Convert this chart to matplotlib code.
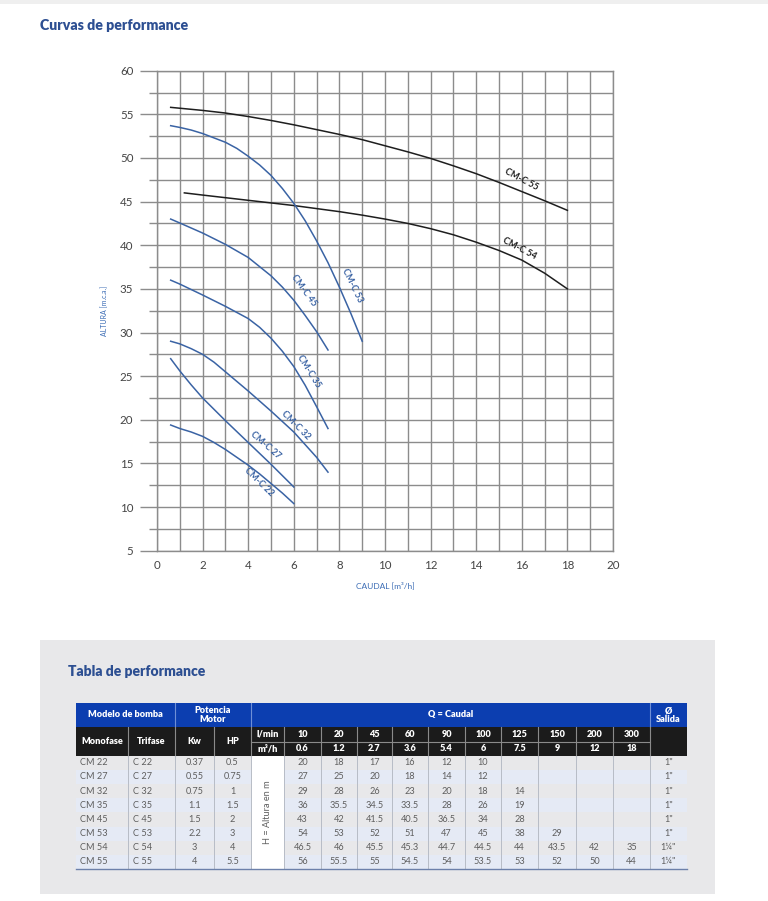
import matplotlib.pyplot as plt
from matplotlib.patches import Rectangle
from matplotlib.ticker import MultipleLocator

plt.rcParams['font.family'] = ['Lato', 'DejaVu Sans']

# curves (caudal m3/h, altura m)
cm55_x = [0.6, 2, 3, 4, 5, 6, 7, 8, 9, 10, 11, 12, 13, 14, 15, 16, 17, 18]
cm55_y = [55.8, 55.45, 55.15, 54.75, 54.3, 53.8, 53.25, 52.7, 52.1, 51.4,
          50.7, 49.95, 49.1, 48.2, 47.2, 46.15, 45.1, 44.0]
cm54_x = [1.2, 2, 3, 4, 5, 6, 7, 8, 9, 10, 11, 12, 13, 14, 15, 16, 17, 18]
cm54_y = [46.0, 45.75, 45.45, 45.15, 44.85, 44.55, 44.2, 43.85, 43.45, 43.0,
          42.5, 41.9, 41.2, 40.35, 39.4, 38.3, 36.8, 35.0]
cm53_x = [0.6, 1, 1.5, 2, 3, 3.5, 4, 4.5, 5, 5.5, 6, 6.5, 7, 7.5, 8, 8.5, 9]
cm53_y = [53.7, 53.5, 53.2, 52.8, 51.8, 51.1, 50.2, 49.2, 48.0, 46.5, 44.8,
          42.8, 40.5, 38.0, 35.2, 32.2, 29.0]
cm45_x = [0.6, 1, 2, 3, 4, 5, 5.5, 6, 6.5, 7, 7.5]
cm45_y = [43.0, 42.55, 41.4, 40.1, 38.6, 36.5, 35.2, 33.7, 31.95, 30.1, 28.0]
cm35_x = [0.6, 1, 2, 3, 4, 4.5, 5, 5.5, 6, 6.5, 7, 7.5]
cm35_y = [36.0, 35.55, 34.3, 33.0, 31.6, 30.6, 29.35, 27.85, 26.1, 23.95,
          21.5, 19.0]
cm32_x = [0.6, 1, 1.5, 2, 2.5, 3, 4, 5, 6, 7, 7.5]
cm32_y = [29.0, 28.7, 28.15, 27.5, 26.6, 25.5, 23.3, 21.0, 18.6, 15.7, 14.0]
cm27_x = [0.6, 1, 1.5, 2, 3, 4, 5, 6]
cm27_y = [27.0, 25.6, 24.0, 22.5, 19.9, 17.4, 14.9, 12.3]
cm22_x = [0.6, 1, 1.5, 2, 2.5, 3, 3.5, 4, 4.5, 5, 5.5, 6]
cm22_y = [19.4, 19.0, 18.6, 18.1, 17.4, 16.6, 15.7, 14.8, 13.8, 12.7, 11.6, 10.4]

# label: (text, x, y, rotation)
curve_labels = [
    ("CM-C 55", 16.0, 47.5, -28), ("CM-C 54", 15.9, 39.6, -28),
    ("CM-C 53", 8.58, 35.4, -64), ("CM-C 45", 6.45, 34.8, -54),
    ("CM-C 35", 6.65, 25.6, -58), ("CM-C 32", 6.1, 19.35, -45),
    ("CM-C 27", 4.75, 17.05, -41), ("CM-C 22", 4.45, 12.85, -44),
]

# table
monofase = ["CM 22", "CM 27", "CM 32", "CM 35", "CM 45", "CM 53", "CM 54", "CM 55"]
trifase = ["C 22", "C 27", "C 32", "C 35", "C 45", "C 53", "C 54", "C 55"]
kw = ["0.37", "0.55", "0.75", "1.1", "1.5", "2.2", "3", "4"]
hp = ["0.5", "0.75", "1", "1.5", "2", "3", "4", "5.5"]
q_lmin = ["10", "20", "45", "60", "90", "100", "125", "150", "200", "300"]
q_m3h = ["0.6", "1.2", "2.7", "3.6", "5.4", "6", "7.5", "9", "12", "18"]
heights = [
    ["20", "18", "17", "16", "12", "10", "", "", "", ""],
    ["27", "25", "20", "18", "14", "12", "", "", "", ""],
    ["29", "28", "26", "23", "20", "18", "14", "", "", ""],
    ["36", "35.5", "34.5", "33.5", "28", "26", "19", "", "", ""],
    ["43", "42", "41.5", "40.5", "36.5", "34", "28", "", "", ""],
    ["54", "53", "52", "51", "47", "45", "38", "29", "", ""],
    ["46.5", "46", "45.5", "45.3", "44.7", "44.5", "44", "43.5", "42", "35"],
    ["56", "55.5", "55", "54.5", "54", "53.5", "53", "52", "50", "44"],
]
salida = ['1"', '1"', '1"', '1"', '1"', '1"', '1¼"', '1¼"']

W, H = 768, 901
fig = plt.figure(figsize=(W / 100, H / 100), dpi=100)

bg = fig.add_axes([0, 0, 1, 1])
bg.set_xlim(0, W)
bg.set_ylim(H, 0)
bg.axis("off")

title_col = "#2d4f92"
blue_hdr = "#0c3eb0"
black_hdr = "#1b1b1b"
stripe = "#e5eaf5"
txt = "#5e5e5e"

bg.add_patch(Rectangle((0, 0), W, 4, color="#efefef", lw=0))
bg.text(40, 25, "Curvas de performance", color=title_col, fontsize=10.2,
        fontweight="heavy", va="center")

# gray panel
bg.add_patch(Rectangle((40, 640), 675, 254, color="#e8e8ea", lw=0))
bg.text(68, 672, "Tabla de performance", color=title_col, fontsize=10,
        fontweight="heavy", va="center")

edges = [76, 128, 175, 214, 251, 284, 321, 357, 392, 428, 465, 501, 538,
         576, 613, 650, 687]
y_blue, y_b1, y_b2, y_data = 702.5, 727.3, 741.5, 755.5
row_h = 14.2
n_rows = len(monofase)
y_end = y_data + n_rows * row_h

# header backgrounds
bg.add_patch(Rectangle((edges[0], y_blue), edges[-1] - edges[0], y_b1 - y_blue,
                       color=blue_hdr, lw=0))
bg.add_patch(Rectangle((edges[0], y_b1), edges[-1] - edges[0], y_data - y_b1,
                       color=black_hdr, lw=0))
for e in [175, 251, 650]:
    bg.plot([e, e], [y_blue, y_b1], color="#6f8fd6", lw=0.8)
for e in edges[1:-1]:
    bg.plot([e, e], [y_b1, y_data], color="#8a8a8a", lw=0.8)
bg.plot([251, 650], [y_b2, y_b2], color="#8a8a8a", lw=0.8)

hkw = dict(color="white", fontsize=6.6, fontweight="heavy", ha="center",
           va="center")
bg.text((edges[0] + edges[2]) / 2, (y_blue + y_b1) / 2, "Modelo de bomba", **hkw)
bg.text((edges[2] + edges[4]) / 2, (y_blue + y_b1) / 2, "Potencia\nMotor",
        linespacing=0.9, **hkw)
bg.text((edges[4] + edges[15]) / 2, (y_blue + y_b1) / 2, "Q = Caudal", **hkw)
bg.text((edges[15] + edges[16]) / 2, (y_blue + y_b1) / 2, "Ø\nSalida",
        linespacing=0.9, **hkw)
for i, lab in enumerate(["Monofase", "Trifase", "Kw", "HP"]):
    bg.text((edges[i] + edges[i + 1]) / 2, (y_b1 + y_data) / 2, lab, **hkw)
bg.text((edges[4] + edges[5]) / 2, (y_b1 + y_b2) / 2, "l/min", **hkw)
bg.text((edges[4] + edges[5]) / 2, (y_b2 + y_data) / 2, "m³/h", **hkw)
for j in range(len(q_lmin)):
    cx = (edges[5 + j] + edges[6 + j]) / 2
    bg.text(cx, (y_b1 + y_b2) / 2, q_lmin[j], **hkw)
    bg.text(cx, (y_b2 + y_data) / 2, q_m3h[j], **hkw)

# data rows
dkw = dict(color=txt, fontsize=6.6, va="center")
for r in range(n_rows):
    y0 = y_data + r * row_h
    yc = y0 + row_h / 2
    if r % 2 == 1:
        bg.add_patch(Rectangle((edges[0], y0), edges[-1] - edges[0], row_h,
                               color=stripe, lw=0))
    bg.text(edges[0] + 4, yc, monofase[r], ha="left", **dkw)
    bg.text(edges[1] + 5, yc, trifase[r], ha="left", **dkw)
    bg.text((edges[2] + edges[3]) / 2, yc, kw[r], ha="center", **dkw)
    bg.text((edges[3] + edges[4]) / 2, yc, hp[r], ha="center", **dkw)
    for j, v in enumerate(heights[r]):
        bg.text((edges[5 + j] + edges[6 + j]) / 2, yc, v, ha="center", **dkw)
    bg.text((edges[15] + edges[16]) / 2, yc, salida[r], ha="center", **dkw)

# merged "H = Altura en m" cell
bg.add_patch(Rectangle((edges[4], y_data), edges[5] - edges[4], y_end - y_data,
                       color="white", lw=0))
bg.text((edges[4] + edges[5]) / 2, (y_data + y_end) / 2, "H = Altura en m",
        rotation=90, ha="center", va="center", color=txt, fontsize=6.6)
for e in edges[1:-1]:
    bg.plot([e, e], [y_data, y_end], color="#b7bcc6", lw=0.7)
bg.plot([edges[0], edges[-1]], [y_end, y_end], color="#6c80aa", lw=1.0)

# performance chart
ax = fig.add_axes([157 / W, 1 - 550.7 / H, 456 / W, 480 / H])
ax.set_xlim(0, 20)
ax.set_ylim(5, 60)
ax.xaxis.set_major_locator(MultipleLocator(2))
ax.xaxis.set_minor_locator(MultipleLocator(1))
ax.yaxis.set_major_locator(MultipleLocator(5))
ax.yaxis.set_minor_locator(MultipleLocator(2.5))
grid_col = "#8c8c8c"
ax.grid(which="both", color=grid_col, lw=1.0)
ax.set_axisbelow(True)
for s in ax.spines.values():
    s.set_color(grid_col)
    s.set_linewidth(1.0)
ax.tick_params(axis="y", which="major", length=12, width=1.0, color=grid_col,
               pad=5, labelsize=8.3, labelcolor="#444444")
ax.tick_params(axis="y", which="minor", length=6, width=1.0, color=grid_col)
ax.tick_params(axis="x", which="both", length=0, pad=7, labelsize=8.3,
               labelcolor="#444444")

curve_blue = "#3a63a4"
curve_black = "#1e1e1e"
ax.plot(cm55_x, cm55_y, color=curve_black, lw=1.1)
ax.plot(cm54_x, cm54_y, color=curve_black, lw=1.1)
for xs, ys in [(cm53_x, cm53_y), (cm45_x, cm45_y), (cm35_x, cm35_y),
               (cm32_x, cm32_y), (cm27_x, cm27_y), (cm22_x, cm22_y)]:
    ax.plot(xs, ys, color=curve_blue, lw=1.1)

for name, lx, ly, rot in curve_labels:
    c = curve_black if name in ("CM-C 55", "CM-C 54") else curve_blue
    ax.text(lx, ly, name, rotation=rot, color=c, fontsize=6.5,
            fontweight="bold", ha="center", va="center",
            rotation_mode="anchor")

ax.set_ylabel("ALTURA [m.c.a.]", color="#3b6cb5", fontsize=5, labelpad=8)
ax.set_xlabel("CAUDAL [m³/h]", color="#3b6cb5", fontsize=6, labelpad=7)

fig.savefig("out.png", dpi=100)
